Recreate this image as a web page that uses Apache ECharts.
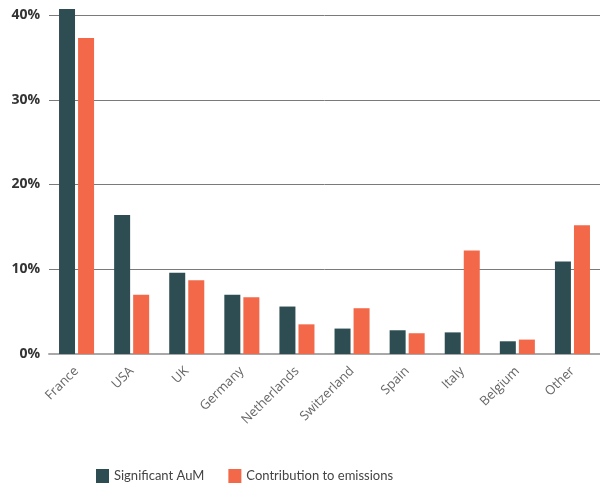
<!DOCTYPE html>
<html>
<head>
<meta charset="utf-8">
<script src="https://cdn.jsdelivr.net/npm/echarts@6/dist/echarts.min.js"></script>
<style>
  html, body { margin: 0; padding: 0; background: #fff; }
  #chart { width: 600px; height: 485px; }
</style>
</head>
<body>
<div id="chart"></div>
<script>
  // categories (x axis)
  var countries = ['France', 'USA', 'UK', 'Germany', 'Netherlands', 'Switzerland', 'Spain', 'Italy', 'Belgium', 'Other']
  // series values, in %
  var significantAuM = [40.7, 16.4, 9.6, 7.0, 5.6, 3.0, 2.8, 2.55, 1.5, 10.9]
  var contributionEmissions = [37.3, 7.0, 8.7, 6.7, 3.5, 5.4, 2.45, 12.2, 1.7, 15.2]
  // y ticks
  var yTicks = [0, 10, 20, 30, 40]

  var myChart = echarts.init(document.getElementById('chart'))

  var option = {
    animation: false,
    legend: {
      data: ['Significant AuM', 'Contribution to emissions'],
      left: 91,
      top: 464,
      itemWidth: 13,
      itemHeight: 14,
      itemGap: 24,
      icon: 'rect',
      textStyle: {
        color: '#444',
        fontSize: 13,
        fontFamily: 'Lato'
      }
    },
    grid: { left: 49, right: 0, top: 15, bottom: 131 },
    xAxis: {
      type: 'category',
      data: countries,
      axisLine: {
        lineStyle: { color: '#a8a8a8', width: 2 }
      },
      axisTick: { show: false },
      axisLabel: {
        rotate: 45,
        margin: 15,
        color: '#666',
        fontSize: 13,
        fontFamily: 'Open Sans',
        interval: 0
      }
    },
    yAxis: {
      type: 'value',
      min: yTicks[0],
      max: yTicks[yTicks.length - 1],
      interval: 10,
      axisLine: { show: false },
      axisTick: { show: false },
      axisLabel: {
        formatter: '{value}%',
        margin: 9,
        color: '#333',
        fontSize: 14,
        fontWeight: 'bold',
        fontFamily: 'Open Sans'
      },
      splitLine: {
        lineStyle: { color: '#7a7a7a', width: 1 }
      }
    },
    series: [
      {
        name: 'Significant AuM',
        type: 'bar',
        data: significantAuM,
        clip: false,
        itemStyle: { color: '#2e4d52' },
        barWidth: 16,
        barGap: '19%'
      },
      {
        name: 'Contribution to emissions',
        type: 'bar',
        data: contributionEmissions,
        clip: false,
        itemStyle: { color: '#f26849' },
        barWidth: 16,
        barGap: '19%'
      }
    ]
  }
  myChart.setOption(option)
</script>
</body>
</html>
